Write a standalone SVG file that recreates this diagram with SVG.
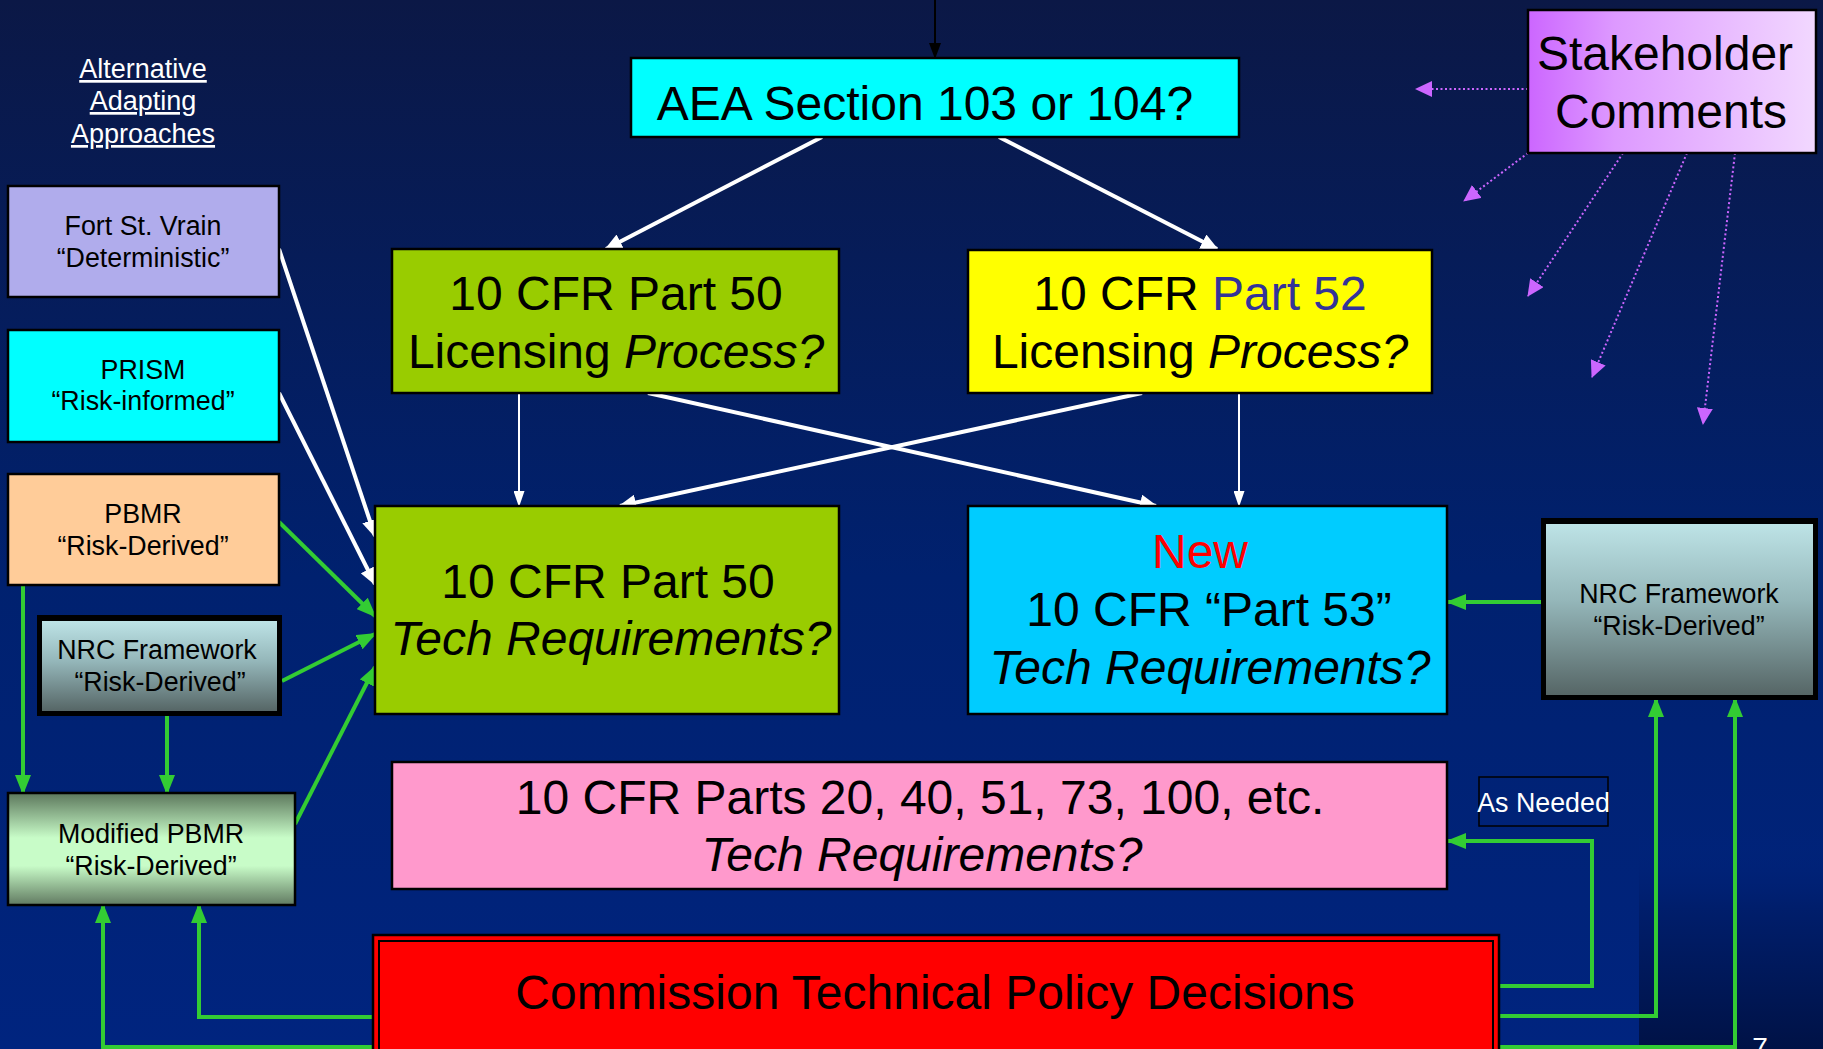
<svg xmlns="http://www.w3.org/2000/svg" width="1823" height="1049" viewBox="0 0 1823 1049">
<defs>
<linearGradient id="bg" x1="0" y1="0" x2="0" y2="1">
<stop offset="0" stop-color="#0b1846"/>
<stop offset="0.55" stop-color="#00216f"/>
<stop offset="1" stop-color="#00247f"/>
</linearGradient>
<linearGradient id="patch" x1="0" y1="0" x2="0" y2="1">
<stop offset="0" stop-color="#00247f" stop-opacity="0"/>
<stop offset="0.35" stop-color="#001e6c"/>
<stop offset="1" stop-color="#001246"/>
</linearGradient>
<linearGradient id="nrc" x1="0" y1="0" x2="0" y2="1">
<stop offset="0" stop-color="#bde3e6"/>
<stop offset="0.45" stop-color="#94b6b9"/>
<stop offset="1" stop-color="#566666"/>
</linearGradient>
<linearGradient id="mod" x1="0" y1="0" x2="0" y2="1">
<stop offset="0" stop-color="#5c775c"/>
<stop offset="0.4" stop-color="#c8fcc8"/>
<stop offset="0.65" stop-color="#c8fcc8"/>
<stop offset="1" stop-color="#617a61"/>
</linearGradient>
<linearGradient id="stake" x1="0" y1="0" x2="1" y2="0">
<stop offset="0" stop-color="#cc66ff"/>
<stop offset="0.3" stop-color="#dd99ff"/>
<stop offset="1" stop-color="#f2d8ff"/>
</linearGradient>
<marker id="mW" markerUnits="userSpaceOnUse" markerWidth="18" markerHeight="16" viewBox="0 0 18 16" refX="16" refY="8" orient="auto"><path d="M0,0 L18,8 L0,16 z" fill="#fff"/></marker>
<marker id="mWs" markerUnits="userSpaceOnUse" markerWidth="16" markerHeight="11" viewBox="0 0 16 11" refX="15" refY="5.5" orient="auto"><path d="M0,0 L16,5.5 L0,11 z" fill="#fff"/></marker>
<marker id="mG" markerUnits="userSpaceOnUse" markerWidth="20" markerHeight="16" viewBox="0 0 20 16" refX="18" refY="8" orient="auto"><path d="M0,0 L20,8 L0,16 z" fill="#33cc33"/></marker>
<marker id="mP" markerUnits="userSpaceOnUse" markerWidth="17" markerHeight="16" viewBox="0 0 17 16" refX="16" refY="8" orient="auto"><path d="M0,0 L17,8 L0,16 z" fill="#cc66ff"/></marker>
<marker id="mB" markerUnits="userSpaceOnUse" markerWidth="16" markerHeight="12" viewBox="0 0 16 12" refX="15" refY="6" orient="auto"><path d="M0,0 L16,6 L0,12 z" fill="#000"/></marker>
</defs>
<style>
text{font-family:"Liberation Sans",Arial,sans-serif;fill:#000;text-anchor:middle}
.big{font-size:48px}
.sm{font-size:26.8px}
.it{font-style:italic}
.box{stroke:#000;stroke-width:2.5}
.w{fill:none;stroke:#fff;stroke-width:4;marker-end:url(#mW)}
.ws{fill:none;stroke:#fff;stroke-width:2;marker-end:url(#mWs)}
.g{fill:none;stroke:#33cc33;stroke-width:4;marker-end:url(#mG)}
.p{fill:none;stroke:#cc66ff;stroke-width:2;stroke-dasharray:2 2.5;marker-end:url(#mP)}
.wt{fill:#fff}
</style>
<rect x="0" y="0" width="1823" height="1049" fill="url(#bg)"/>
<rect x="1639" y="830" width="184" height="219" fill="url(#patch)"/>

<g id="title">
<text class="wt" x="143" y="78" font-size="27" text-decoration="underline">Alternative</text>
<text class="wt" x="143" y="110" font-size="27" text-decoration="underline">Adapting</text>
<text class="wt" x="143" y="143" font-size="27" text-decoration="underline">Approaches</text>
</g>

<g id="connectors">
<path d="M935,0 L935,58" fill="none" stroke="#000" stroke-width="2" marker-end="url(#mB)"/>
<path class="w" d="M822,137 L606,249"/>
<path class="w" d="M999,137 L1217,249"/>
<path class="ws" d="M519,393 L519,506"/>
<path class="ws" d="M1239,393 L1239,506"/>
<path class="w" d="M648,393 L1156,506"/>
<path class="w" d="M1142,393 L620,506"/>
<path class="w" d="M279,249 L375,536"/>
<path class="w" d="M279,393 L375,584"/>
<path class="g" d="M279,522 L375,616"/>
<path class="g" d="M282,681 L375,634"/>
<path class="g" d="M295,824 L375,667"/>
<path class="g" d="M23,585 L23,793"/>
<path class="g" d="M167,716 L167,793"/>
<path class="g" d="M373,1017 L199,1017 L199,905"/>
<path class="g" d="M373,1047 L103,1047 L103,905"/>
<path class="g" d="M1499,1047 L1735,1047 L1735,699"/>
<path class="g" d="M1499,1016 L1656,1016 L1656,699"/>
<path class="g" d="M1499,986 L1592,986 L1592,841 L1448,841"/>
<path class="g" d="M1543,602 L1448,602"/>
<path class="p" d="M1528,89 L1416,89"/>
<path class="p" d="M1528,153 L1464,201"/>
<path class="p" d="M1623,153 L1528,296"/>
<path class="p" d="M1687,153 L1592,377"/>
<path class="p" d="M1735,153 L1703,424"/>
</g>

<g id="aea">
<rect class="box" x="631" y="58" width="608" height="79" fill="#00ffff"/>
<text class="big" x="925" y="120">AEA Section 103 or 104?</text>
</g>

<g id="part50-licensing">
<rect class="box" x="392" y="249" width="447" height="144" fill="#99cc00"/>
<text class="big" x="616" y="310">10 CFR Part 50</text>
<text class="big" x="616" y="368">Licensing <tspan class="it">Process?</tspan></text>
</g>

<g id="part52-licensing">
<rect class="box" x="968" y="250" width="464" height="143" fill="#ffff00"/>
<text class="big" x="1200" y="310">10 CFR <tspan fill="#333399">Part 52</tspan></text>
<text class="big" x="1200" y="368">Licensing <tspan class="it">Process?</tspan></text>
</g>

<g id="part50-tech">
<rect class="box" x="375" y="506" width="464" height="208" fill="#99cc00"/>
<text class="big" x="608" y="598">10 CFR Part 50</text>
<text class="big it" x="611" y="655">Tech Requirements?</text>
</g>

<g id="part53-tech">
<rect class="box" x="968" y="506" width="479" height="208" fill="#00ccff"/>
<text class="big" x="1200" y="568" style="fill:#ff0000">New</text>
<text class="big" x="1209" y="626">10 CFR “Part 53”</text>
<text class="big it" x="1210" y="684">Tech Requirements?</text>
</g>

<g id="other-parts">
<rect class="box" x="392" y="762" width="1055" height="127" fill="#ff99cc"/>
<text class="big" x="920" y="814">10 CFR Parts 20, 40, 51, 73, 100, etc.</text>
<text class="big it" x="922" y="871">Tech Requirements?</text>
</g>

<g id="commission">
<rect x="373" y="935" width="1126" height="130" fill="#ff0000" stroke="#000" stroke-width="2.5"/>
<rect x="379" y="941" width="1114" height="130" fill="#ff0000" stroke="#000" stroke-width="2"/>
<text class="big" x="935" y="1009">Commission Technical Policy Decisions</text>
</g>

<g id="stakeholder">
<rect class="box" x="1528" y="10" width="288" height="143" fill="url(#stake)"/>
<text class="big" x="1665" y="70">Stakeholder</text>
<text class="big" x="1671" y="128">Comments</text>
</g>

<g id="fort-st-vrain">
<rect class="box" x="8" y="186" width="271" height="111" fill="#b0acec"/>
<text class="sm" x="143" y="235">Fort St. Vrain</text>
<text class="sm" x="143" y="267">“Deterministic”</text>
</g>

<g id="prism">
<rect class="box" x="8" y="330" width="271" height="112" fill="#00ffff"/>
<text class="sm" x="143" y="379">PRISM</text>
<text class="sm" x="143" y="410">“Risk-informed”</text>
</g>

<g id="pbmr">
<rect class="box" x="8" y="474" width="271" height="111" fill="#ffcc99"/>
<text class="sm" x="143" y="523">PBMR</text>
<text class="sm" x="143" y="555">“Risk-Derived”</text>
</g>

<g id="nrc-left">
<rect x="37" y="615" width="245" height="101" fill="#000"/>
<rect x="42" y="621" width="235" height="90" fill="url(#nrc)"/>
<text class="sm" x="157" y="659">NRC Framework</text>
<text class="sm" x="160" y="691">“Risk-Derived”</text>
</g>

<g id="modified-pbmr">
<rect class="box" x="8" y="793" width="287" height="112" fill="url(#mod)"/>
<text class="sm" x="151" y="843">Modified PBMR</text>
<text class="sm" x="151" y="875">“Risk-Derived”</text>
</g>

<g id="nrc-right">
<rect x="1541" y="518" width="277" height="182" fill="#000"/>
<rect x="1546" y="524" width="267" height="171" fill="url(#nrc)"/>
<text class="sm" x="1679" y="603">NRC Framework</text>
<text class="sm" x="1679" y="635">“Risk-Derived”</text>
</g>

<g id="as-needed">
<rect x="1479" y="777" width="129" height="49" fill="none" stroke="#000" stroke-width="1.5"/>
<text class="sm wt" x="1543.5" y="812">As Needed</text>
</g>

<text class="wt" x="1760" y="1057" font-size="28">7</text>
</svg>
